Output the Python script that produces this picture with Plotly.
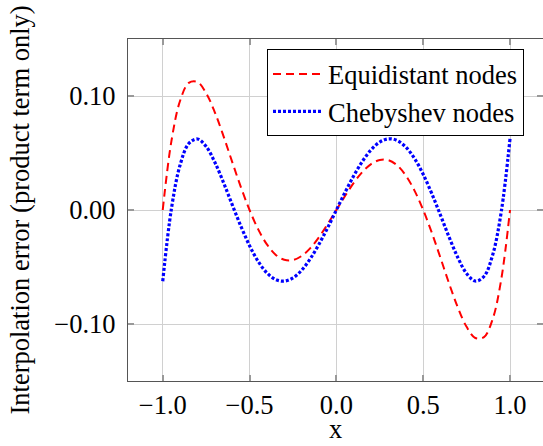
import plotly.graph_objects as go

x_vals = [-1.0, -0.95, -0.9, -0.85, -0.8, -0.75, -0.7, -0.65, -0.6, -0.55, -0.5,
          -0.45, -0.4, -0.35, -0.3, -0.25, -0.2, -0.15, -0.1, -0.05, 0.0,
          0.05, 0.1, 0.15, 0.2, 0.25, 0.3, 0.35, 0.4, 0.45, 0.5,
          0.55, 0.6, 0.65, 0.7, 0.75, 0.8, 0.85, 0.9, 0.95, 1.0]

equidistant = [0.0, 0.0604, 0.0958, 0.1115, 0.1123, 0.1025, 0.0857, 0.0648, 0.0422, 0.0201, 0.0,
               -0.0170, -0.0302, -0.0392, -0.0437, -0.0439, -0.0403, -0.0334, -0.0238, -0.0123, 0.0,
               0.0123, 0.0238, 0.0334, 0.0403, 0.0439, 0.0437, 0.0392, 0.0302, 0.0170, 0.0,
               -0.0201, -0.0422, -0.0648, -0.0857, -0.1025, -0.1123, -0.1115, -0.0958, -0.0604, 0.0]

chebyshev = [-0.0625, 0.0011, 0.0395, 0.0583, 0.0623, 0.0557, 0.0419, 0.0241, 0.0047, -0.0142, -0.0313,
             -0.0452, -0.0552, -0.0610, -0.0624, -0.0596, -0.0528, -0.0427, -0.0300, -0.0155, 0.0,
             0.0155, 0.0300, 0.0427, 0.0528, 0.0596, 0.0624, 0.0610, 0.0552, 0.0452, 0.0313,
             0.0142, -0.0047, -0.0241, -0.0419, -0.0557, -0.0623, -0.0583, -0.0395, -0.0011, 0.0625]

x_ticks = [-1.0, -0.5, 0.0, 0.5, 1.0]
x_tick_labels = ["−1.0", "−0.5", "0.0", "0.5", "1.0"]
y_ticks = [-0.1, 0.0, 0.1]
y_tick_labels = ["−0.10", "0.00", "0.10"]

FONT = "'Liberation Serif', 'Times New Roman', Times, serif"
FS = 26.5

fig = go.Figure()
fig.add_trace(go.Scatter(x=x_vals, y=equidistant, mode="lines", name="Equidistant nodes",
                         line=dict(color="red", width=2, dash="8px,5px", shape="spline")))
fig.add_trace(go.Scatter(x=x_vals, y=chebyshev, mode="lines", name="Chebyshev nodes",
                         line=dict(color="blue", width=3.2, dash="3px,2px", shape="spline")))

axis_common = dict(showgrid=True, gridcolor="#d0d0d0", gridwidth=1,
                   showline=True, linecolor="#555555", linewidth=1.2, mirror="allticks",
                   ticks="inside", ticklen=6, tickcolor="#999999", tickwidth=1.5,
                   zeroline=False, automargin=False,
                   tickfont=dict(family=FONT, size=FS, color="black"))

fig.update_layout(
    width=543, height=446,
    margin=dict(l=127.5, r=0, t=39, b=65),
    plot_bgcolor="white", paper_bgcolor="white",
    font=dict(family=FONT, size=FS, color="black"),
    showlegend=True,
    legend=dict(x=0.335, y=0.97, xanchor="left", yanchor="top",
                bordercolor="black", borderwidth=1, bgcolor="white",
                itemwidth=50, tracegroupgap=0,
                font=dict(family=FONT, size=FS)),
    xaxis=dict(range=[-1.2, 1.19], tickvals=x_ticks, ticktext=x_tick_labels,
               ticklabelstandoff=0, **axis_common),
    yaxis=dict(range=[-0.15, 0.15], tickvals=y_ticks, ticktext=y_tick_labels,
               ticklabelstandoff=6,
               title=dict(text="Interpolation error (product term only)", font=dict(family=FONT, size=FS), standoff=16),
               **axis_common),
    annotations=[dict(text="x", xref="paper", yref="paper", x=0.5, y=-0.14,
                      xanchor="center", yanchor="middle", showarrow=False,
                      font=dict(family=FONT, size=FS, color="black"))],
)

fig.write_html("out.html")
